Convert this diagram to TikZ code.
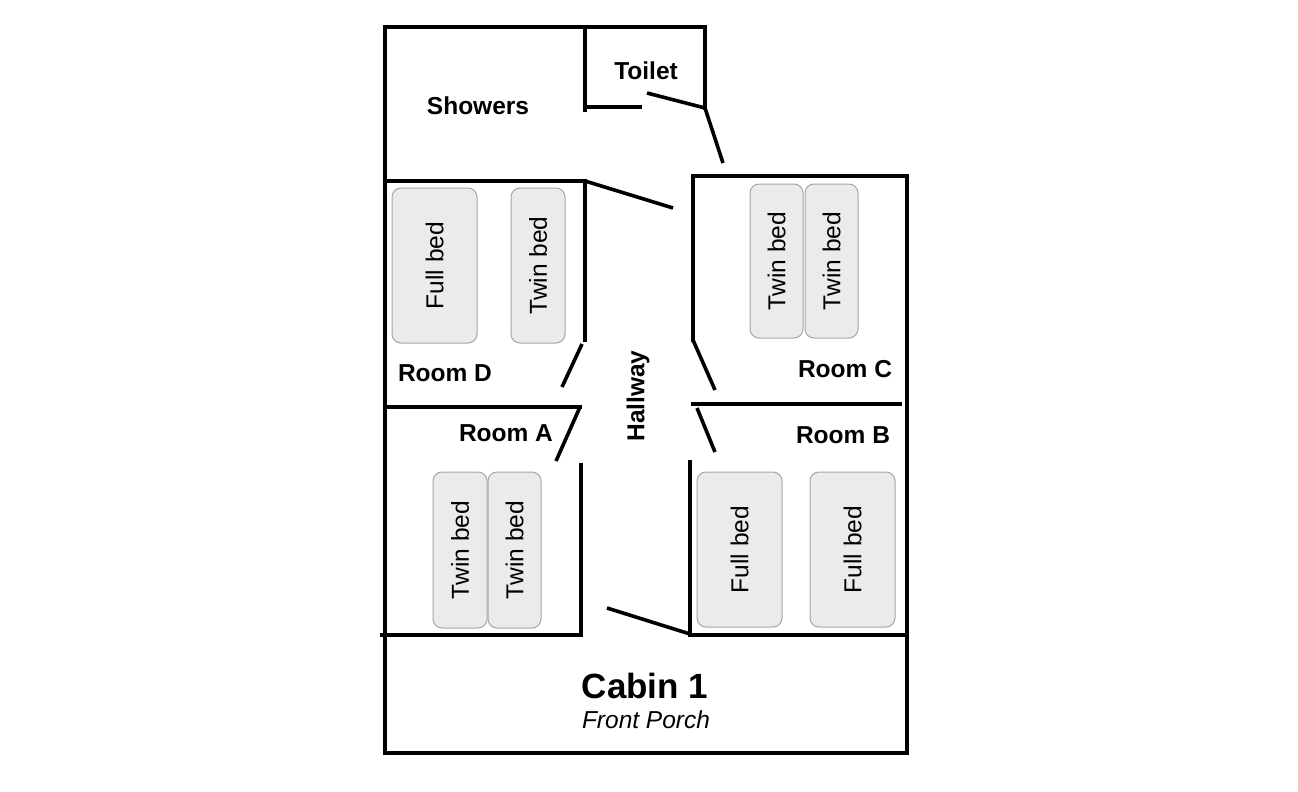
\documentclass[tikz,border=0pt]{standalone}
\usepackage{fontspec}
\setmainfont{Liberation Sans}
\tikzset{wall/.style={line width=3.6pt,line cap=rect},
  door/.style={line width=3.6pt},
  bed/.style={draw=gray!70,fill=black!8,rounded corners=9pt,line width=1pt,
    inner sep=0pt,font=\fontsize{24.5}{28}\selectfont},
  roomlabel/.style={font=\bfseries\fontsize{24.5}{28}\selectfont}}
\begin{document}
\begin{tikzpicture}[x=1pt,y=-1pt]
  \useasboundingbox (0,0) rectangle (1298,792);

  % outer walls
  \draw [wall] (585,27) -- (385,27) -- (385,753) -- (907,753) -- (907,176) -- (693,176) -- (693,340);
  \draw [wall] (585,27) -- (705,27) -- (705,108);
  \draw [wall] (585,27) -- (585,110);
  \draw [wall] (585,107) -- (640,107);
  \draw [door] (647,93) -- (705,108) -- (723,163);

  % showers and room D
  \draw [wall] (385,181) -- (585,181) -- (585,340);
  \draw [door] (585,181) -- (673,208);
  \draw [door] (582,344) -- (562,387);
  \draw [wall] (385,407) -- (580,407);
  \draw [door] (580,407) -- (556,461);

  % room A
  \draw [wall] (581,465) -- (581,635) -- (382,635);

  % room C and B
  \draw [door] (693,340) -- (715,390);
  \draw [wall] (693,404) -- (900,404);
  \draw [door] (697,408) -- (715,452);
  \draw [wall] (690,462) -- (690,635) -- (907,635);
  \draw [door] (607,608) -- (690,634);

  % beds
  \node [bed,minimum width=85pt,minimum height=155pt] (bd1) at (434.5,265.5) {\rotatebox{90}{Full bed}};
  \node [bed,minimum width=54pt,minimum height=155pt] (bd2) at (538,265.5) {\rotatebox{90}{Twin bed}};
  \node [bed,minimum width=53pt,minimum height=154pt] (bc1) at (776.5,261) {\rotatebox{90}{Twin bed}};
  \node [bed,minimum width=53pt,minimum height=154pt] (bc2) at (831.5,261) {\rotatebox{90}{Twin bed}};
  \node [bed,minimum width=54pt,minimum height=156pt] (ba1) at (460,550) {\rotatebox{90}{Twin bed}};
  \node [bed,minimum width=53pt,minimum height=156pt] (ba2) at (514.5,550) {\rotatebox{90}{Twin bed}};
  \node [bed,minimum width=85pt,minimum height=155pt] (bb1) at (739.5,549.5) {\rotatebox{90}{Full bed}};
  \node [bed,minimum width=85pt,minimum height=155pt] (bb2) at (852.5,549.5) {\rotatebox{90}{Full bed}};

  % labels
  \node [roomlabel] (showers) at (478,106) {Showers};
  \node [roomlabel] (toilet) at (646,71) {Toilet};
  \node [roomlabel] (roomd) at (445,373) {Room D};
  \node [roomlabel] (roomc) at (845,369) {Room C};
  \node [roomlabel] (rooma) at (506,433) {Room A};
  \node [roomlabel] (roomb) at (843,435) {Room B};
  \node [roomlabel,rotate=90] (hall) at (638,396) {Hallway};
  \node [font=\bfseries\fontsize{35}{40}\selectfont] (cabin) at (645,686) {Cabin 1};
  \node [font=\itshape\fontsize{24.5}{28}\selectfont] (porch) at (646,720) {Front Porch};
\end{tikzpicture}
\end{document}
